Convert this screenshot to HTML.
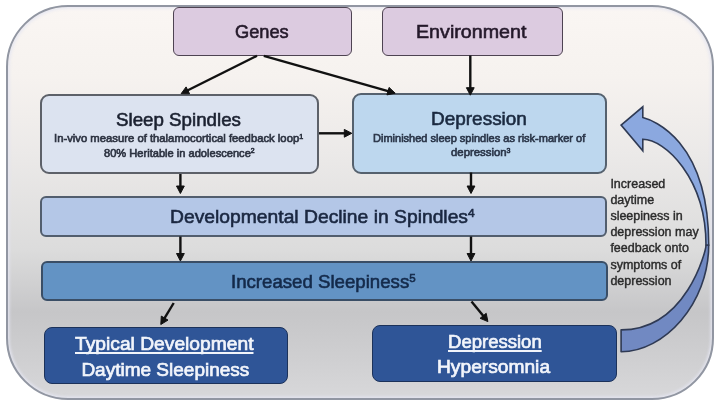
<!DOCTYPE html>
<html><head><meta charset="utf-8">
<style>
html,body{margin:0;padding:0;}
body{width:720px;height:406px;overflow:hidden;background:#fff;position:relative;font-family:"Liberation Sans",sans-serif;}
.frame{position:absolute;box-sizing:border-box;left:5.7px;top:4.8px;width:708.3px;height:395.4px;border:2px solid #9196a2;border-radius:62px;box-shadow:inset 0 0 3px 1.5px rgba(228,230,242,0.9);
background:linear-gradient(180deg,#faf6f3 0%,#f6f2ef 18%,#ebe9e8 38%,#dcdcdc 62%,#c6c6c8 78%,#cfcfd1 90%,#d8d8da 100%);}
.bx{position:absolute;box-sizing:border-box;}
.t{position:absolute;white-space:nowrap;line-height:1;transform-origin:0 0;}
.t u{text-decoration-thickness:1.5px;text-underline-offset:1.6px;text-decoration-skip-ink:none;}
.sp{position:relative;top:-0.52em;font-size:0.62em;line-height:0;}
.ov{position:absolute;left:0;top:0;}
.wrap{position:absolute;left:0;top:0;width:720px;height:406px;filter:blur(0.35px);}
</style></head><body><div class="wrap">
<div class="frame"></div>
<div class="bx" style="left:173px;top:7.1px;width:179.20px;height:48.70px;background:#dccbe0;border:1.9px solid #4e4352;border-radius:6px"></div>
<div class="bx" style="left:382px;top:7.1px;width:181.00px;height:48.70px;background:#dccbe0;border:1.9px solid #4e4352;border-radius:6px"></div>
<div class="bx" style="left:40.2px;top:94px;width:279.00px;height:80.00px;background:#dce3f0;border:2px solid #5d6169;border-radius:9px"></div>
<div class="bx" style="left:352.3px;top:93.3px;width:255.20px;height:80.60px;background:#bdd7ee;border:2px solid #55616e;border-radius:9px"></div>
<div class="bx" style="left:40.3px;top:196.2px;width:567.20px;height:40.80px;background:#b4c7e7;border:2px solid #525e6e;border-radius:6px"></div>
<div class="bx" style="left:40.5px;top:261.3px;width:567.00px;height:40.10px;background:#6393c4;border:2.2px solid #3a4e66;border-radius:6px"></div>
<div class="bx" style="left:44px;top:327px;width:243.80px;height:57.20px;background:#2f5597;border:1.7px solid #1c325a;border-radius:8px"></div>
<div class="bx" style="left:372.3px;top:325px;width:244.70px;height:57.30px;background:#2f5597;border:1.7px solid #1c325a;border-radius:8px"></div>
<div class="t" style="left:235.34px;top:22.36px;font-size:19px;font-weight:400;color:#24192a;transform:scaleX(0.9600);-webkit-text-stroke:0.6px currentColor;">Genes</div>
<div class="t" style="left:415.53px;top:22.05px;font-size:19px;font-weight:400;color:#24192a;transform:scaleX(1.0350);-webkit-text-stroke:0.6px currentColor;">Environment</div>
<div class="t" style="left:116.01px;top:109.85px;font-size:19px;font-weight:400;color:#1b2130;transform:scaleX(0.9860);-webkit-text-stroke:0.6px currentColor;">Sleep Spindles</div>
<div class="t" style="left:53.82px;top:133.27px;font-size:11.5px;font-weight:400;color:#2c3240;transform:scaleX(0.9810);-webkit-text-stroke:0.65px currentColor;">In-vivo measure of thalamocortical feedback loop<span class="sp">1</span></div>
<div class="t" style="left:104.40px;top:148.17px;font-size:11.5px;font-weight:400;color:#2c3240;transform:scaleX(0.9650);-webkit-text-stroke:0.65px currentColor;">80% Heritable in adolescence<span class="sp">2</span></div>
<div class="t" style="left:431.20px;top:109.45px;font-size:19px;font-weight:400;color:#1b2a40;transform:scaleX(0.9980);-webkit-text-stroke:0.6px currentColor;">Depression</div>
<div class="t" style="left:372.74px;top:133.17px;font-size:11.5px;font-weight:400;color:#2a3548;transform:scaleX(0.9570);-webkit-text-stroke:0.65px currentColor;">Diminished sleep spindles as risk-marker of</div>
<div class="t" style="left:450.50px;top:147.47px;font-size:11.5px;font-weight:400;color:#2a3548;transform:scaleX(0.9870);-webkit-text-stroke:0.65px currentColor;">depression<span class="sp">3</span></div>
<div class="t" style="left:169.67px;top:207.16px;font-size:19px;font-weight:400;color:#1a2740;transform:scaleX(1.0150);-webkit-text-stroke:0.6px currentColor;">Developmental Decline in Spindles<span class="sp">4</span></div>
<div class="t" style="left:230.54px;top:272.25px;font-size:19px;font-weight:400;color:#142a4a;transform:scaleX(0.9810);-webkit-text-stroke:0.6px currentColor;">Increased Sleepiness<span class="sp">5</span></div>
<div class="t" style="left:74.50px;top:333.86px;font-size:19px;font-weight:400;color:#f2f5fb;transform:scaleX(1.0120);-webkit-text-stroke:0.7px currentColor;"><u>Typical Development</u></div>
<div class="t" style="left:81.40px;top:359.65px;font-size:19px;font-weight:400;color:#f2f5fb;transform:scaleX(1.0000);-webkit-text-stroke:0.7px currentColor;">Daytime Sleepiness</div>
<div class="t" style="left:448.22px;top:331.95px;font-size:19px;font-weight:400;color:#f2f5fb;transform:scaleX(0.9750);-webkit-text-stroke:0.7px currentColor;"><u>Depression</u></div>
<div class="t" style="left:437.49px;top:357.36px;font-size:19px;font-weight:400;color:#f2f5fb;transform:scaleX(1.0100);-webkit-text-stroke:0.7px currentColor;">Hypersomnia</div>
<div class="t" style="left:610.40px;top:177.51px;font-size:12.5px;font-weight:400;color:#2a2a2a;transform:scaleX(1.0000);-webkit-text-stroke:0.4px currentColor;">Increased</div>
<div class="t" style="left:610.40px;top:193.71px;font-size:12.5px;font-weight:400;color:#2a2a2a;transform:scaleX(1.0000);-webkit-text-stroke:0.4px currentColor;">daytime</div>
<div class="t" style="left:610.40px;top:209.91px;font-size:12.5px;font-weight:400;color:#2a2a2a;transform:scaleX(1.0000);-webkit-text-stroke:0.4px currentColor;">sleepiness in</div>
<div class="t" style="left:610.40px;top:226.11px;font-size:12.5px;font-weight:400;color:#2a2a2a;transform:scaleX(1.0000);-webkit-text-stroke:0.4px currentColor;">depression may</div>
<div class="t" style="left:610.40px;top:242.31px;font-size:12.5px;font-weight:400;color:#2a2a2a;transform:scaleX(1.0000);-webkit-text-stroke:0.4px currentColor;">feedback onto</div>
<div class="t" style="left:610.40px;top:258.51px;font-size:12.5px;font-weight:400;color:#2a2a2a;transform:scaleX(1.0000);-webkit-text-stroke:0.4px currentColor;">symptoms of</div>
<div class="t" style="left:610.40px;top:274.71px;font-size:12.5px;font-weight:400;color:#2a2a2a;transform:scaleX(1.0000);-webkit-text-stroke:0.4px currentColor;">depression</div>
<svg class="ov" width="720" height="406" viewBox="0 0 720 406">
<g stroke="#111" fill="#111">
<line x1="257.0" y1="55.8" x2="186.9" y2="90.8" stroke-width="2.4"/><polygon points="181.1,93.7 186.1,86.9 189.6,93.8"/>
<line x1="263.8" y1="55.8" x2="388.9" y2="91.4" stroke-width="2.4"/><polygon points="395.2,93.2 386.9,94.9 389.1,87.4"/>
<line x1="470.3" y1="55.5" x2="470.3" y2="88.7" stroke-width="2.4"/><polygon points="470.3,95.2 466.4,87.7 474.2,87.7"/>
<line x1="319.0" y1="133.3" x2="345.3" y2="133.3" stroke-width="2.4"/><polygon points="351.8,133.3 344.3,137.2 344.3,129.4"/>
<line x1="180.4" y1="174.0" x2="180.4" y2="187.0" stroke-width="2.4"/><polygon points="180.4,193.5 176.5,186.0 184.3,186.0"/>
<line x1="471.0" y1="172.5" x2="471.0" y2="187.0" stroke-width="2.4"/><polygon points="471.0,193.5 467.1,186.0 474.9,186.0"/>
<line x1="180.4" y1="236.5" x2="180.4" y2="254.5" stroke-width="2.4"/><polygon points="180.4,261.0 176.5,253.5 184.3,253.5"/>
<line x1="471.0" y1="236.5" x2="471.0" y2="254.5" stroke-width="2.4"/><polygon points="471.0,261.0 467.1,253.5 474.9,253.5"/>
<line x1="173.7" y1="303.0" x2="164.1" y2="318.9" stroke-width="2.4"/><polygon points="160.8,324.5 161.3,316.1 168.0,320.1"/>
<line x1="471.5" y1="301.5" x2="483.8" y2="316.6" stroke-width="2.4"/><polygon points="487.9,321.6 480.1,318.3 486.2,313.3"/>
</g>
<path d="M621.1,351.8 C664.1,351.8 708.7,304 708.7,245 L706,245 C706,251 686.1,329.9 621.1,329.9 Z" fill="#7189c2" stroke="#2f3a54" stroke-width="1.6" stroke-linejoin="round"/>
<path d="M708.7,245 C708.7,140 652.8,120 642.8,117.5 L642.8,106.8 L621.1,125.1 L642.8,150.8 L642.8,139.3 C664.8,139.3 706,178 706,245 Z" fill="#8ba8df" stroke="#2f3a54" stroke-width="1.6" stroke-linejoin="miter"/>
</svg>
</div></body></html>
